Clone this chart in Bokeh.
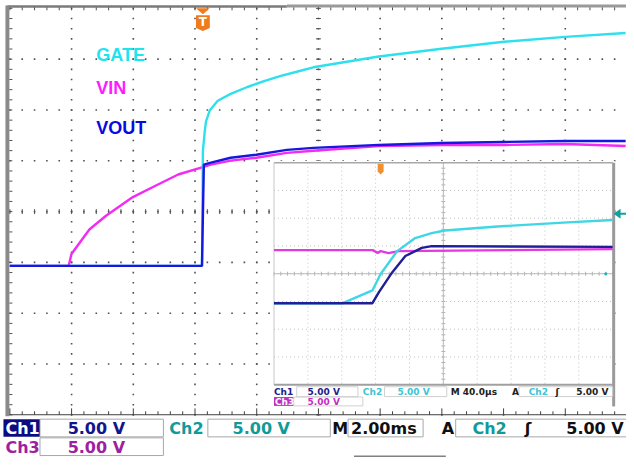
import numpy as np
from bokeh.plotting import figure
from bokeh.models import Range1d
from bokeh.core.properties import value
from bokeh.embed import file_html
from bokeh.resources import INLINE

# ---------------- data ----------------
# main screen: time in ms from trigger, volts above the ground level (2 ms/div, 5 V/div)
vin_t = [-6.26, -4.35, -4.26, -3.68, -3.14, -2.27, -1.44, -0.80, -0.06, 0.26, 0.90,
         1.73, 2.72, 3.58, 5.70, 7.74, 9.76, 11.74, 13.70]
vin_v = [0.0, 0.0, 1.16, 3.58, 4.93, 6.77, 8.03, 8.99, 9.67, 9.96, 10.35,
         10.64, 11.12, 11.32, 11.80, 11.90, 11.90, 11.99, 11.80]
vout_t = [-6.26, -0.03, 0.03, 0.26, 0.90, 1.73, 2.72, 3.58, 5.70, 7.74, 9.76, 11.74, 13.70]
vout_v = [0.0, 0.0, 9.96, 10.15, 10.64, 10.93, 11.41, 11.61, 11.90, 12.09, 12.19, 12.28, 12.28]
gate_t = [-6.26, -0.03, 0.0, 0.06, 0.10, 0.22, 0.48, 0.90, 1.44, 1.98, 2.50, 3.04, 3.58,
          5.70, 7.74, 9.76, 11.74, 13.70]
gate_v = [0.0, 0.0, 11.32, 13.25, 14.22, 15.28, 16.25, 16.92, 17.60, 18.18, 18.67, 19.10, 19.54,
          20.60, 21.37, 22.05, 22.53, 22.92]

# inset screen: time in µs from trigger (40 µs/div, 5 V/div)
ivin_t = [-126, -9.3, -3.5, 0, 9.3, 21, 274]
ivin_v = [9.56, 9.56, 9.03, 9.38, 9.03, 9.38, 9.73]
igate_t = [-126, -44.7, -9.7, 0, 19.5, 40.8, 60.3, 75.8, 138, 215.7, 274]
igate_v = [0, 0, 2.30, 5.26, 9.38, 11.73, 12.62, 13.10, 13.81, 14.51, 14.99]
ivout_t = [-126, -9.7, -2.0, 13.6, 29.2, 48.6, 60.3, 274]
ivout_v = [0, 0, 2.0, 5.54, 8.50, 9.96, 10.27, 10.14]

trace_labels = ["GATE", "VIN", "VOUT"]
readout_main_row1 = ["Ch1", "5.00 V", "Ch2", "5.00 V", "M", "2.00ms", "A", "Ch2", "\u0283", "5.00 V"]
readout_main_row2 = ["Ch3", "5.00 V"]
readout_inset_row1 = ["Ch1", "5.00 V", "Ch2", "5.00 V", "M 40.0\u00b5s", "A", "Ch2", "\u0283", "5.00 V"]
readout_inset_row2 = ["Ch3", "5.00 V"]

# ---------------- layout (reference pixel frame) ----------------
W_REF, H_REF = 634, 465
MX0, MDX, MY0, MDY = 9.5, 62.5, 8.0, 51.7          # main graticule
MT0, MPX_MS, MG0, MPX_V = 205.0, 31.25, 270.0, 10.34
IX0, IDX, IY0, IDY = 277.0, 34.3, 165.0, 28.25     # inset graticule
IT0, IPX_US, IG0, IPX_V = 385.0, 34.3 / 40.0, 308.0, 28.25 / 5.0

p = figure(width=626, height=457, x_range=Range1d(0, W_REF), y_range=Range1d(H_REF, 0),
           output_backend="svg", toolbar_location=None, min_border=0,
           x_axis_location=None, y_axis_location=None)
p.grid.visible = False
p.outline_line_color = None
p.background_fill_color = "white"

p.extra_x_ranges = {
    "mt": Range1d((0 - MT0) / MPX_MS, (W_REF - MT0) / MPX_MS),
    "it": Range1d((0 - IT0) / IPX_US, (W_REF - IT0) / IPX_US),
}
p.extra_y_ranges = {
    "mv": Range1d((MG0 - H_REF) / MPX_V, MG0 / MPX_V),
    "iv": Range1d((IG0 - H_REF) / IPX_V, IG0 / IPX_V),
}

# ---------------- main graticule ----------------
minor_y = [MY0 + MDY / 5 * j for j in range(41)]
minor_x = [MX0 + MDX / 5 * j for j in range(51)]
dx, dy = [], []
for i in range(1, 10):
    for y in minor_y:
        dx.append(MX0 + MDX * i); dy.append(y)
for k in range(1, 8):
    for x in minor_x:
        dx.append(x); dy.append(MY0 + MDY * k)
p.scatter(dx, dy, marker="square", size=1.6, fill_color="#505050", line_color=None)

xc, yc = MX0 + 5 * MDX, MY0 + 4 * MDY
p.segment(x0=[xc - 2.5] * len(minor_y), x1=[xc + 2.5] * len(minor_y), y0=minor_y, y1=minor_y,
          line_color="#505050", line_width=1)
p.segment(x0=minor_x, x1=minor_x, y0=[yc - 2.5] * len(minor_x), y1=[yc + 2.5] * len(minor_x),
          line_color="#505050", line_width=1)
# edges
p.segment(x0=[7], x1=[290], y0=[6], y1=[6], line_color="#7a7a7a", line_width=2.5)
p.segment(x0=[290], x1=[W_REF], y0=[5.5], y1=[5.5], line_color="#9a9a9a", line_width=3)
p.segment(x0=minor_x, x1=minor_x, y0=[7] * len(minor_x), y1=[10] * len(minor_x),
          line_color="#505050", line_width=1)
p.quad(left=[5], right=[9], top=[5], bottom=[423], fill_color="#8a8a8a", line_color=None)
p.segment(x0=[9] * len(minor_y), x1=[12] * len(minor_y), y0=minor_y, y1=minor_y,
          line_color="#505050", line_width=1)
p.segment(x0=[9], x1=[W_REF], y0=[421.5], y1=[421.5], line_color="#404040", line_width=1)
tick_top = [415 if j % 5 == 0 else 418 for j in range(51)]
p.segment(x0=minor_x, x1=minor_x, y0=tick_top, y1=[421.5] * len(minor_x),
          line_color="#404040", line_width=1)

# ---------------- main traces ----------------
p.line(vin_t, vin_v, x_range_name="mt", y_range_name="mv", line_color="#f22cf2", line_width=2.4)
p.line(gate_t, gate_v, x_range_name="mt", y_range_name="mv", line_color="#2ee0ee", line_width=2.4)
p.line(vout_t, vout_v, x_range_name="mt", y_range_name="mv", line_color="#1717e0", line_width=2.4)

# trigger marker
p.patch([198, 212, 205], [8, 8, 14], fill_color="#f07a1e", line_color=None)
p.patch([198, 212, 212, 205, 198], [15, 15, 28, 31, 28], fill_color="#f07a1e", line_color=None)
p.text([205], [22], text=["T"], text_color="white", text_font=value("DejaVu Sans"),
       text_font_style="bold", text_font_size="12px", text_align="center", text_baseline="middle")

# labels
p.text([97, 97, 97], [55, 89, 130], text=trace_labels,
       text_color=["#1ee4ee", "#ff1aff", "#0a0ae0"], text_font=value("Liberation Sans"),
       text_font_style="bold", text_font_size="18px", text_align="left", text_baseline="middle")

# ---------------- inset ----------------
p.quad(left=[275], right=[622], top=[163], bottom=[413], fill_color="white", line_color=None)
ivx = [IX0 + IDX * i for i in range(1, 10)]
ihy = [IY0 + IDY * k for k in range(1, 8)]
p.segment(x0=ivx, x1=ivx, y0=[IY0] * 9, y1=[IY0 + 8 * IDY] * 9,
          line_color="#c2c2c2", line_width=1, line_dash="1 3")
p.segment(x0=[IX0] * 7, x1=[IX0 + 10 * IDX] * 7, y0=ihy, y1=ihy,
          line_color="#c2c2c2", line_width=1, line_dash="1 3")
ixc, iyc = IX0 + 5 * IDX, IY0 + 4 * IDY
iminor_x = [IX0 + IDX / 5 * j for j in range(51)]
iminor_y = [IY0 + IDY / 5 * j for j in range(41)]
p.segment(x0=iminor_x, x1=iminor_x, y0=[iyc - 2] * 51, y1=[iyc + 2] * 51, line_color="#b0b0b0")
p.segment(x0=[ixc - 2] * 41, x1=[ixc + 2] * 41, y0=iminor_y, y1=iminor_y, line_color="#b0b0b0")
p.segment(x0=[ixc], x1=[ixc], y0=[IY0], y1=[IY0 + 8 * IDY], line_color="#bcbcbc")
p.segment(x0=[IX0], x1=[IX0 + 10 * IDX], y0=[iyc], y1=[iyc], line_color="#bcbcbc")
# inset borders
p.segment(x0=[IX0], x1=[IX0 + 10 * IDX], y0=[IY0], y1=[IY0], line_color="#a8a8a8", line_width=1.5)
p.segment(x0=[IX0], x1=[IX0], y0=[IY0], y1=[IY0 + 8 * IDY], line_color="#c8c8c8", line_width=1)
p.segment(x0=[IX0], x1=[IX0 + 10 * IDX], y0=[IY0 + 8 * IDY], y1=[IY0 + 8 * IDY],
          line_color="#a0a0a0", line_width=2)
p.segment(x0=[IX0 + 10 * IDX + 1], x1=[IX0 + 10 * IDX + 1], y0=[IY0], y1=[413],
          line_color="#9a9a9a", line_width=3)

# inset traces
p.line(ivin_t, ivin_v, x_range_name="it", y_range_name="iv", line_color="#e23ae2", line_width=2.4)
p.line(igate_t, igate_v, x_range_name="it", y_range_name="iv", line_color="#3fd6e6", line_width=2.4)
p.line(ivout_t, ivout_v, x_range_name="it", y_range_name="iv", line_color="#1e1e96", line_width=2.4)

# inset trigger marker, arrow, level dot
p.patch([382, 388, 388, 385, 382], [166, 166, 174, 177, 174], fill_color="#f0902e", line_color=None)
p.patch([621, 628, 628], [217, 212, 222], fill_color="#0fa0a0", line_color=None)
p.segment(x0=[627], x1=[W_REF], y0=[217], y1=[217], line_color="#0fa0a0", line_width=2)
p.scatter([613], [278], marker="circle", size=3, fill_color="#20b0b0", line_color=None)

# inset readout
p.quad(left=[277], right=[297], top=[403.5], bottom=[412.5], fill_color="#c030c0", line_color=None)
p.quad(left=[300, 389, 525, 297], right=[362, 452, 620, 367], top=[393, 393, 393, 403.5],
       bottom=[403, 403, 403, 412.5], fill_color=None, line_color="#d0d0d0", line_width=1)
p.text([277, 311, 367, 402, 456, 518, 535, 562, 583], [398.5] * 9, text=readout_inset_row1,
       text_color=["#20208a", "#20208a", "#3cc4d4", "#3cc4d4", "#202020", "#202020", "#3cc4d4",
                   "#202020", "#202020"],
       text_font=value("DejaVu Sans"), text_font_style="bold", text_font_size="9px",
       text_align="left", text_baseline="middle")
p.text([278, 311], [408.5] * 2, text=readout_inset_row2, text_color=["white", "#c030c0"],
       text_font=value("DejaVu Sans"), text_font_style="bold", text_font_size="9px",
       text_align="left", text_baseline="middle")

# ---------------- main readout ----------------
p.quad(left=[3], right=[40], top=[426], bottom=[444], fill_color="#0c0c80", line_color=None)
p.quad(left=[40, 210, 352, 461, 40], right=[165, 334, 428, 660, 165],
       top=[426, 426, 426, 426, 445], bottom=[444, 444, 444, 444, 463],
       fill_color=None, line_color="#a8a8a8", line_width=1)
p.text([5, 68, 171, 235, 336, 355, 447, 478, 531, 573], [435.5] * 10, text=readout_main_row1,
       text_color=["white", "#14148c", "#109a9a", "#109a9a", "#101010", "#101010", "#101010",
                   "#109a9a", "#101010", "#101010"],
       text_font=value("DejaVu Sans"), text_font_style="bold", text_font_size="16px",
       text_align="left", text_baseline="middle")
p.text([5, 68], [454.5] * 2, text=readout_main_row2, text_color=["#a01ea0", "#a01ea0"],
       text_font=value("DejaVu Sans"), text_font_style="bold", text_font_size="16px",
       text_align="left", text_baseline="middle")
p.segment(x0=[358], x1=[451], y0=[464], y1=[464], line_color="#808080", line_width=2)

open("out.html", "w").write(file_html(p, INLINE))
